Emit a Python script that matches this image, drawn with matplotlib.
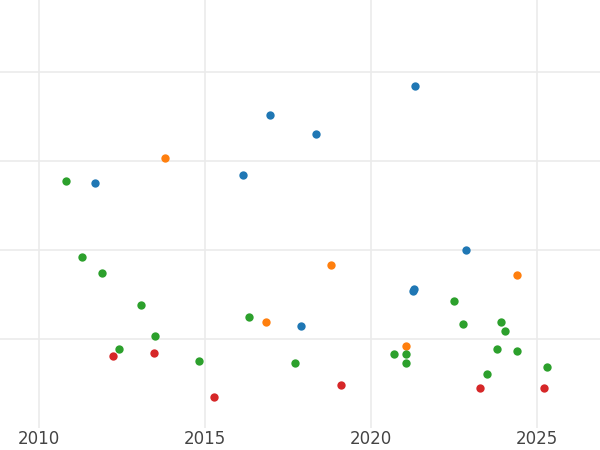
import matplotlib
matplotlib.use("Agg")
import matplotlib.pyplot as plt

# values (x in years, y in gridline units)
blue_x = [2021.32, 2016.96, 2018.34, 2011.69, 2016.15, 2022.86, 2021.29, 2021.26, 2017.89]
blue_y = [2.85, 2.52, 2.31, 1.76, 1.84, 1.00, 0.56, 0.54, 0.15]
orange_x = [2013.80, 2018.80, 2024.40, 2016.84, 2021.05]
orange_y = [2.04, 0.84, 0.72, 0.20, -0.08]
green_x = [2010.81, 2011.30, 2011.90, 2013.07, 2013.49, 2012.41, 2014.82, 2016.33, 2017.71,
           2020.69, 2021.05, 2021.05, 2022.50, 2022.77, 2023.92, 2024.04, 2023.80, 2024.40,
           2023.49, 2025.30]
green_y = [1.78, 0.92, 0.74, 0.38, 0.04, -0.11, -0.24, 0.25, -0.27,
           -0.16, -0.16, -0.27, 0.43, 0.17, 0.20, 0.09, -0.11, -0.13,
           -0.39, -0.31]
red_x = [2012.23, 2013.46, 2015.27, 2019.10, 2023.28, 2025.21]
red_y = [-0.19, -0.15, -0.65, -0.51, -0.55, -0.55]

fig = plt.figure(figsize=(6, 4.5), dpi=100)
ax = fig.add_axes([0, 0.05, 1, 0.95])

for xs, ys, c in [(blue_x, blue_y, "#1f77b4"), (orange_x, orange_y, "#ff7f0e"),
                  (green_x, green_y, "#2ca02c"), (red_x, red_y, "#d62728")]:
    ax.scatter(xs, ys, s=36, color=c, zorder=3, linewidths=0)

ax.set_xlim(2008.83, 2026.9)
ax.set_ylim(-0.99, 3.81)
ax.set_xticks([2010, 2015, 2020, 2025])
ax.set_yticks([0, 1, 2, 3])
ax.set_yticklabels([])
ax.grid(True, color="#ebebeb", linewidth=1.2, zorder=0)
for s in ax.spines.values():
    s.set_visible(False)
ax.tick_params(length=0, labelsize=12, labelcolor="#444444", pad=2)

fig.savefig("out.png")
